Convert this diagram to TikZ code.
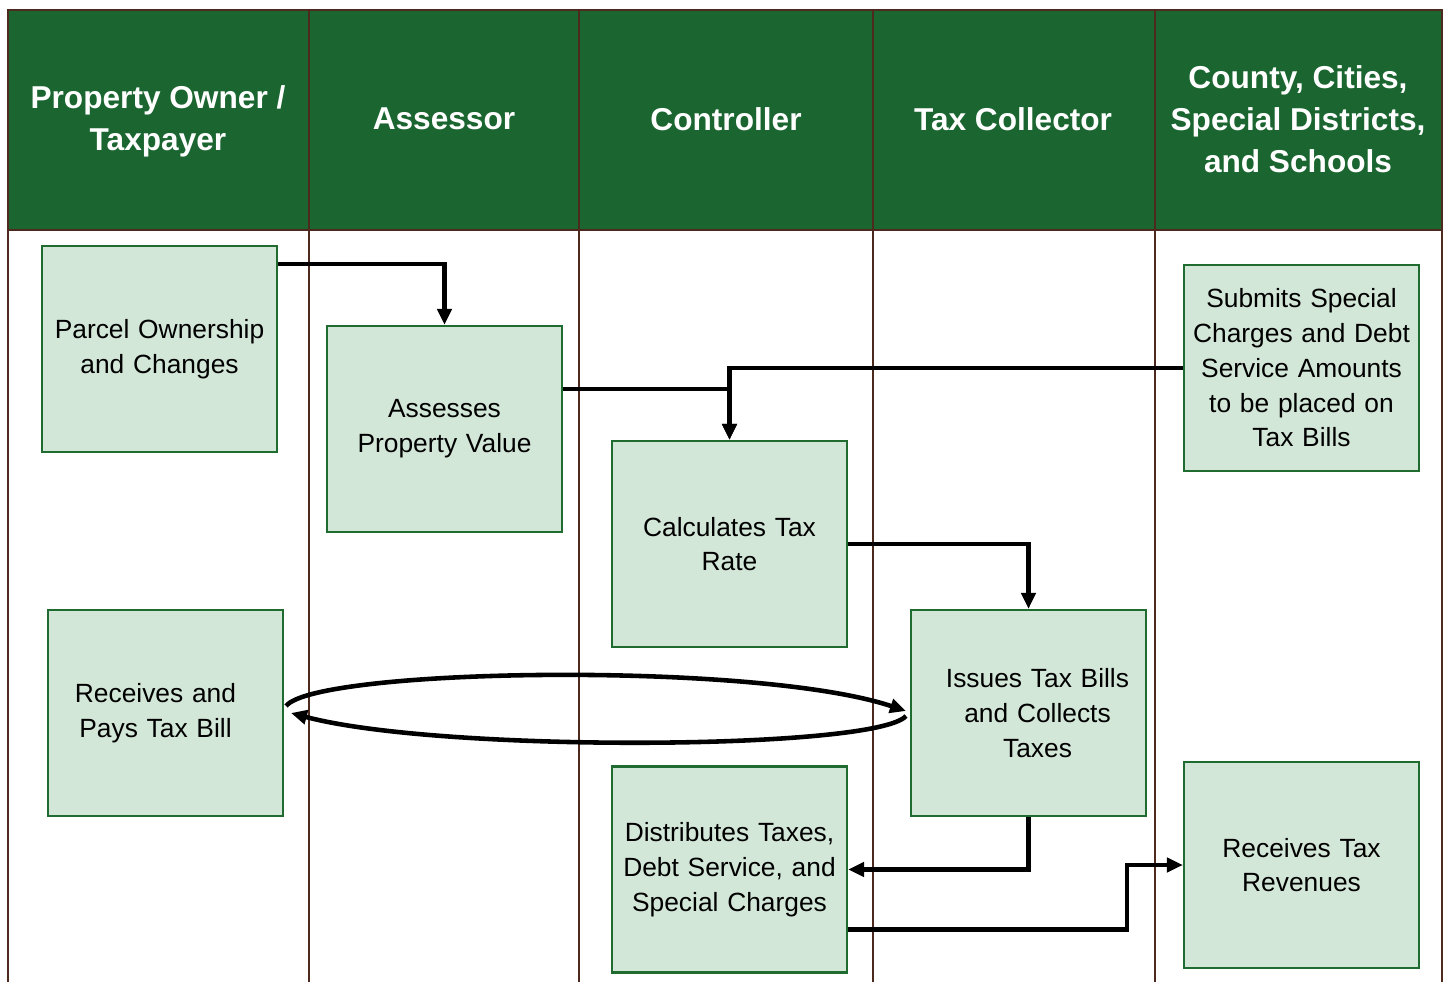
\documentclass[tikz,border=0pt]{standalone}
\usepackage{fontspec}
\setmainfont{Liberation Sans}
\usetikzlibrary{arrows.meta}

\definecolor{hdrgreen}{RGB}{27,102,48}
\definecolor{boxfill}{RGB}{211,231,216}
\definecolor{boxline}{RGB}{31,107,48}
\definecolor{laneline}{RGB}{78,42,30}

\begin{document}
\begin{tikzpicture}[x=0.02cm, y=-0.02cm,
      >={Triangle[length=0.32cm, width=0.28cm]},
      proc/.style={draw=boxline, line width=1.2pt, fill=boxfill,
                   minimum width=4.7cm, minimum height=4.12cm, text width=4.6cm,
                   align=center, inner sep=0pt, font=\fontsize{15}{19.8}\selectfont},
      hdr/.style={text=white, align=center, font=\fontsize{18}{23.8}\selectfont\bfseries},
      flow/.style={->, line width=2.6pt},
      lane/.style={draw=laneline, line width=1.1pt}]

    \def\lft{\kern0.4cm\relax}   % nudges a line left
    \def\rgt{\kern-0.36cm\relax} % nudges a line right

    \useasboundingbox (0,0) rectangle (1449,982);

    % === swim lanes ===
    \fill[hdrgreen] (8,10) rectangle (1442,230);
    \draw[lane] (8,982) -- (8,10) -- (1442,10) -- (1442,982);
    \draw[lane] (8,230) -- (1442,230);
    \foreach \x in {309,579,873,1155}
        \draw[lane] (\x,10) -- (\x,982);

    \node[hdr] (hOwner)      at (158,121)  {Property Owner /\\Taxpayer};
    \node[hdr] (hAssessor)   at (444,119)  {Assessor};
    \node[hdr] (hController) at (726,119)  {Controller};
    \node[hdr] (hCollector)  at (1013,119) {Tax Collector};
    \node[hdr] (hAgencies)   at (1298,119) {County, Cities,\\Special Districts,\\and Schools};

    % === steps ===
    \node[proc] (parcel)   at (159.5,349)  {Parcel Ownership\\and Changes};
    \node[proc] (assess)   at (444.5,429)  {Assesses\\Property Value};
    \node[proc] (rate)     at (729.5,544)  {Calculates Tax\\Rate};
    \node[proc] (submit)   at (1301.5,368) {Submits Special\\Charges and Debt\\Service Amounts\\to be placed on\\Tax Bills};
    \node[proc] (pays)     at (165.5,713)  {Receives and\lft\\Pays Tax Bill\lft};
    \node[proc] (issue)    at (1028.5,713) {Issues Tax Bills\rgt\\and Collects\rgt\\Taxes\rgt};
    \node[proc] (distrib)  at (729.5,869.5) {Distributes Taxes,\\Debt Service, and\\Special Charges};
    \node[proc] (revenue)  at (1301.5,865) {Receives Tax\\Revenues};

    % === flows ===
    \draw[flow] ([yshift=-0.38cm]parcel.north east) -| (assess.north);
    \draw[flow] ([yshift=-1.28cm]assess.north east) -| (rate.north);
    \draw[flow] (submit.west) -| (rate.north);
    \draw[flow] (rate.east) -| (issue.north);
    \draw[flow] (issue.south) |- (distrib.east);
    \draw[flow] ([yshift=-3.28cm]distrib.north east) -| ([xshift=-1.12cm]revenue.west) -- (revenue.west);

    % bill out, payment back
    \draw[flow] ([shift={(0.04cm,0.14cm)}]pays.east) .. controls +(30,-38) and +(-150,-50) .. ([shift={(-0.08cm,0.04cm)}]issue.west);
    \draw[flow] ([shift={(-0.08cm,-0.06cm)}]issue.west) .. controls +(-30,34) and +(150,40) .. ([shift={(0.14cm,0cm)}]pays.east);

\end{tikzpicture}
\end{document}
